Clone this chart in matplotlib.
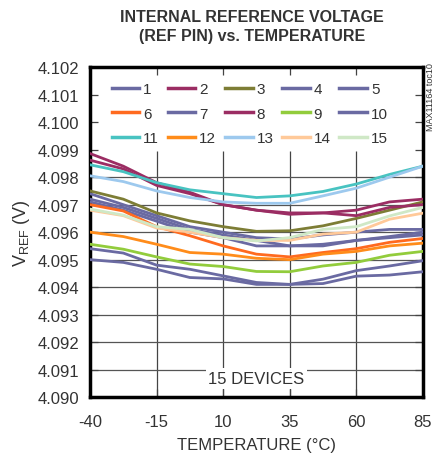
import numpy as np
import matplotlib.pyplot as plt

plt.rcParams['font.family'] = ['Liberation Sans', 'DejaVu Sans']
plt.rcParams['axes.unicode_minus'] = False

temps = [-40, -27.5, -15, -2.5, 10, 22.5, 35, 47.5, 60, 72.5, 85]

# one list per device
d1 = [4.0974, 4.0970, 4.0966, 4.0962, 4.0960, 4.0958, 4.09575, 4.0959, 4.0960, 4.0961, 4.0961]
d2 = [4.09886, 4.0984, 4.0978, 4.09745, 4.0970, 4.0968, 4.0967, 4.0967, 4.0968, 4.0971, 4.0972]
d3 = [4.0975, 4.0972, 4.0967, 4.09641, 4.0962, 4.09603, 4.09605, 4.09623, 4.0965, 4.0968, 4.0971]
d4 = [4.0971, 4.0968, 4.0964, 4.0960, 4.0958, 4.0955, 4.0955, 4.0955, 4.0957, 4.09584, 4.0960]
d5 = [4.0972, 4.0969, 4.0965, 4.0961, 4.0959, 4.0957, 4.0955, 4.09556, 4.0957, 4.0958, 4.0959]
d6 = [4.0970, 4.09677, 4.0962, 4.09587, 4.0955, 4.0952, 4.0951, 4.09526, 4.0954, 4.09563, 4.09577]
d7 = [4.0954, 4.09524, 4.0948, 4.09465, 4.09441, 4.09417, 4.0941, 4.09429, 4.0946, 4.09477, 4.09496]
d8 = [4.09862, 4.0983, 4.0977, 4.0974, 4.0970, 4.0968, 4.09665, 4.0967, 4.0966, 4.0969, 4.0970]
d9 = [4.09556, 4.09538, 4.0951, 4.09484, 4.09475, 4.09457, 4.09456, 4.09477, 4.0949, 4.09516, 4.0953]
d10 = [4.0950, 4.0949, 4.09465, 4.09435, 4.0943, 4.0941, 4.0941, 4.09413, 4.0944, 4.09444, 4.09456]
d11 = [4.09845, 4.0982, 4.0978, 4.09754, 4.0974, 4.09726, 4.09732, 4.09748, 4.09775, 4.0981, 4.0984]
d12 = [4.0960, 4.09584, 4.09556, 4.09526, 4.0952, 4.09505, 4.0950, 4.0952, 4.0953, 4.0955, 4.0956]
d13 = [4.09805, 4.09784, 4.0975, 4.09726, 4.0971, 4.09705, 4.09705, 4.09732, 4.0976, 4.0980, 4.0984]
d14 = [4.0968, 4.0966, 4.09615, 4.0960, 4.0958, 4.0957, 4.0957, 4.09593, 4.0960, 4.09647, 4.09669]
d15 = [4.09684, 4.09662, 4.0962, 4.0961, 4.0958, 4.09568, 4.0958, 4.0961, 4.0962, 4.09659, 4.0969]

devices = [d1, d2, d3, d4, d5, d6, d7, d8, d9, d10, d11, d12, d13, d14, d15]
labels = [str(i) for i in range(1, 16)]

purple = '#6a6aa2'
maroon = '#9b2d63'
colors = [purple, maroon, '#7d7d35', purple, purple,
          '#ff6a1f', purple, maroon, '#92cc3c', purple,
          '#48c3c1', '#ff8c1a', '#9dc9ee', '#ffc999', '#cfe8c6']

xticks = np.arange(-40, 86, 25)
yticks = np.round(np.arange(4.090, 4.1021, 0.001), 3)

fig = plt.figure(figsize=(4.35, 4.64), dpi=100)
ax = fig.add_axes([0.207, 0.142, 0.765, 0.711])
ax.set_xlim(-40, 85)
ax.set_ylim(4.090, 4.102)

# grid only below the legend area
ax.vlines(xticks[1:-1], 4.090, 4.09895, color='#444444', lw=0.9, zorder=1)
ax.hlines(yticks[1:9], -40, 85, color='#555555', lw=0.9, zorder=1)

lines = []
for d, c, lab in zip(devices, colors, labels):
    l, = ax.plot(temps, d, color=c, lw=2.0, label=lab, zorder=3)
    lines.append(l)

ax.set_xticks(xticks)
ax.set_yticks(yticks)
ax.set_yticklabels(['%.3f' % v for v in yticks])
ax.tick_params(direction='in', top=True, right=True, length=6, width=0.9,
               color='#444444', labelsize=12, labelcolor='#333333')
ax.tick_params(axis='x', pad=12)
ax.tick_params(axis='y', pad=8)
for s in ax.spines.values():
    s.set_linewidth(2.5)

ax.set_xlabel('TEMPERATURE (°C)', fontsize=12, color='#333333', labelpad=6)
ax.set_ylabel('V$_{\\mathregular{REF}}$ (V)', fontsize=13, color='#333333', labelpad=4)
fig.text(0.579, 0.978, 'INTERNAL REFERENCE VOLTAGE\n(REF PIN) vs. TEMPERATURE',
         ha='center', va='top', fontsize=11.5, fontweight='bold', color='#333333',
         linespacing=1.3)
fig.text(0.99, 0.79, 'MAX11164 toc10', rotation=90, ha='center', va='center',
         fontsize=6.5, color='#333333')

ax.text(22.5, 4.09067, '15 DEVICES', ha='center', va='center', fontsize=12,
        color='#333333', zorder=4,
        bbox=dict(facecolor='white', edgecolor='none', pad=2))

order = [0, 5, 10, 1, 6, 11, 2, 7, 12, 3, 8, 13, 4, 9, 14]
leg = ax.legend([lines[i] for i in order], [labels[i] for i in order],
                ncol=5, loc='upper left', bbox_to_anchor=(0.042, 0.978),
                frameon=False, fontsize=11, handlelength=1.81, handletextpad=0.26,
                columnspacing=0.56, labelspacing=0.7, borderpad=0.5,
                borderaxespad=0.0)
for t in leg.get_texts():
    t.set_color('#333333')
for h in leg.legend_handles:
    h.set_linewidth(2.5)

fig.savefig('out.png', dpi=100)
